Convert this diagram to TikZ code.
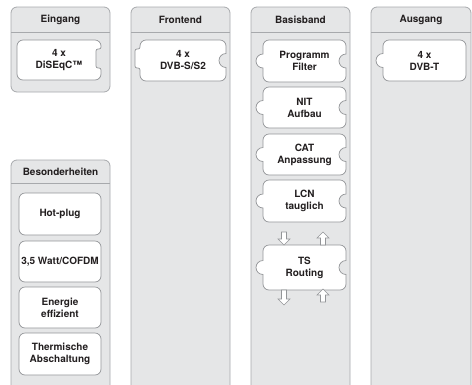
\documentclass[tikz,border=0pt]{standalone}
\usepackage{fontspec}
\setmainfont{TeX Gyre Heros}
\definecolor{colfill}{HTML}{E5E6E7}
\definecolor{colline}{HTML}{A7A9AC}
\definecolor{boxline}{HTML}{939598}
\definecolor{txt}{HTML}{231F20}
\newcommand{\rnotch}[2]{-- (#1,#2-7) arc[start angle=90,end angle=270,radius=7pt]}
\newcommand{\rbump}[2]{-- (#1,#2+7) arc[start angle=270,end angle=90,radius=7pt]}
\newcommand{\qnotch}[3]{-- (#1,#2-2) arc[start angle=0,end angle=-90,radius=2pt] -- (#1-3,#2) arc[start angle=90,end angle=180,radius=2pt] -- (#1-5,#3-2) arc[start angle=180,end angle=270,radius=2pt] -- (#1-2,#3) arc[start angle=90,end angle=0,radius=2pt]}
\newcommand{\qtab}[3]{-- (#1,#3+2) arc[start angle=0,end angle=90,radius=2pt] -- (#1-3,#3) arc[start angle=270,end angle=180,radius=2pt] -- (#1-5,#2+2) arc[start angle=180,end angle=90,radius=2pt] -- (#1-2,#2) arc[start angle=270,end angle=360,radius=2pt]}
\newcommand{\ibx}[6]{\draw[ibox] (#1+6,#2) -- (#3-6,#2) arc[start angle=90,end angle=0,radius=6pt] #5 -- (#3,#4-6) arc[start angle=0,end angle=-90,radius=6pt] -- (#1+6,#4) arc[start angle=270,end angle=180,radius=6pt] #6 -- (#1,#2+6) arc[start angle=180,end angle=90,radius=6pt] -- cycle;}
\newcommand{\darr}[3]{\draw[blockarr] (#1-2.5,#2) -- (#1+2.5,#2) -- (#1+2.5,#3-6) -- (#1+6,#3-6) -- (#1,#3) -- (#1-6,#3-6) -- (#1-2.5,#3-6) -- cycle;}
\newcommand{\uarr}[3]{\draw[blockarr] (#1-2.5,#3) -- (#1+2.5,#3) -- (#1+2.5,#2+6) -- (#1+6,#2+6) -- (#1,#2) -- (#1-6,#2+6) -- (#1-2.5,#2+6) -- cycle;}
\begin{document}
\begin{tikzpicture}[x=1pt,y=-1pt,
  col/.style={fill=colfill,draw=colline,line width=0.8pt,rounded corners=6pt},
  hline/.style={draw=colline,line width=0.8pt},
  ibox/.style={fill=white,draw=boxline,line width=0.7pt},
  blockarr/.style={fill=white,draw=boxline,line width=0.6pt,line join=miter},
  lbl/.style={font=\bfseries\fontsize{10}{12}\selectfont,text=txt,align=center,inner sep=0pt}]
\useasboundingbox (0,0) rectangle (472,384);
\clip (0,0) rectangle (472,384);
% columns
\draw[col] (11,7) rectangle (110,92);
\draw[hline] (11,32) -- (110,32);
\draw[col] (131,7) rectangle (230,395);
\draw[hline] (131,32) -- (230,32);
\draw[col] (251,7) rectangle (350,395);
\draw[hline] (251,32) -- (350,32);
\draw[col] (371,7) rectangle (471,395);
\draw[hline] (371,32) -- (471,32);
\draw[col] (11,160) rectangle (110,395);
\draw[hline] (11,183) -- (110,183);
% headers
\node[lbl] (hEin) at (60.5,20) {Eingang};
\node[lbl] (hFront) at (180.5,20) {Frontend};
\node[lbl] (hBasis) at (300.5,20) {Basisband};
\node[lbl] (hAus) at (421,20) {Ausgang};
\node[lbl] (hBes) at (60.5,172) {Besonderheiten};
% top row boxes
\ibx{17}{40}{101}{80}{\qnotch{101}{49}{68}}{}
\ibx{140}{40}{226}{81}{\rnotch{226}{60.5}}{\qtab{140}{49}{68}}
\ibx{383}{40}{466}{81}{}{\rbump{383}{60.5}}
% Basisband boxes
\ibx{263}{40}{346}{82}{\rnotch{346}{61}}{\rbump{263}{61}}
\ibx{263}{87}{346}{128}{\rnotch{346}{107.5}}{\rbump{263}{107.5}}
\ibx{263}{134}{346}{175}{\rnotch{346}{154.5}}{\rbump{263}{154.5}}
\ibx{263}{180}{346}{222}{\rnotch{346}{201}}{\rbump{263}{201}}
\ibx{263}{245}{346}{290}{\rnotch{346}{267.5}}{\rbump{263}{267.5}}
% Besonderheiten boxes
\ibx{19}{193}{101}{235}{}{}
\ibx{19}{241}{101}{282}{}{}
\ibx{19}{287}{101}{328}{}{}
\ibx{19}{333}{101}{375}{}{}
% arrows
\darr{284}{232}{245}
\uarr{323}{232}{245}
\darr{284}{290}{305}
\uarr{323}{289}{302}
% texts
\node[lbl] (tEin) at (59,60) {4 x\\DiSEqC™};
\node[lbl] (tFront) at (183,60.5) {4 x\\DVB-S/S2};
\node[lbl] (tAus) at (424.5,60.5) {4 x\\DVB-T};
\node[lbl] (tProg) at (304.5,61) {Programm\\Filter};
\node[lbl] (tNIT) at (304.5,107.5) {NIT\\Aufbau};
\node[lbl] (tCAT) at (304.5,154.5) {CAT\\Anpassung};
\node[lbl] (tLCN) at (304.5,201) {LCN\\tauglich};
\node[lbl] (tTS) at (304.5,267.5) {TS\\Routing};
\node[lbl] (tHot) at (60,214) {Hot-plug};
\node[lbl] (tWatt) at (60,261.5) {3,5 Watt/COFDM};
\node[lbl] (tEnergie) at (60,307.5) {Energie\\effizient};
\node[lbl] (tTherm) at (60,354) {Thermische\\Abschaltung};
\end{tikzpicture}
\end{document}
